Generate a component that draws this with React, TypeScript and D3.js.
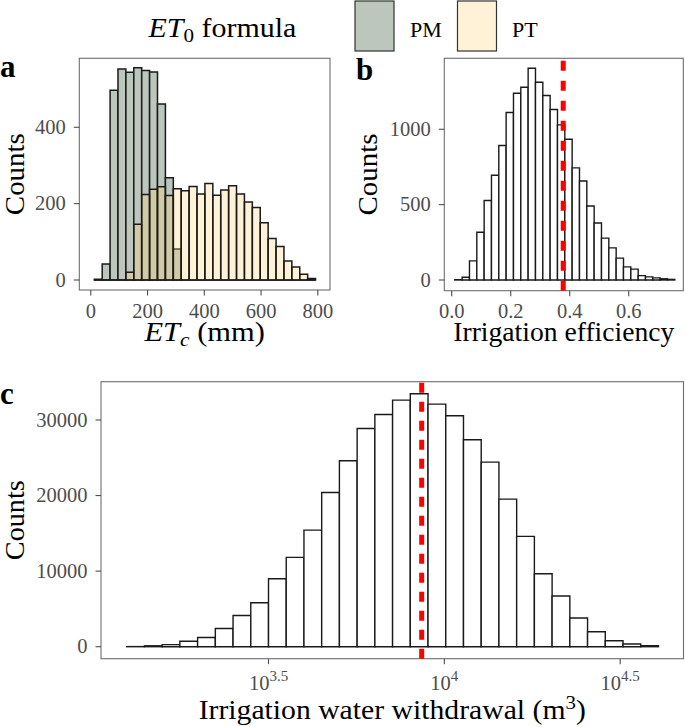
import React from "react";
import * as d3 from "d3";

// ---------- DATA ----------
// Panel a: ETc histogram (mm), shared bins for both ET0 formulas
const etBinStart = 12.3;
const etBinWidth = 27.85;
const pmCounts = [2, 42, 497, 553, 544, 556, 549, 545, 461, 268, 81, 0, 0, 0, 0, 0, 0, 0, 0, 0, 0, 0, 0, 0, 0, 0, 0, 0];
const ptCounts = [0, 0, 0, 0, 20, 146, 224, 238, 244, 221, 239, 234, 245, 225, 253, 222, 236, 247, 225, 204, 190, 150, 109, 88, 50, 34, 15, 4];
const etXTicks = [0, 200, 400, 600, 800];
const etYTicks = [0, 200, 400];

// Panel b: irrigation efficiency
const ieBinStart = 0.0105;
const ieBinWidth = 0.02486;
const ieCounts = [2, 18, 127, 317, 527, 695, 892, 1111, 1239, 1279, 1405, 1312, 1224, 1131, 1029, 934, 744, 657, 491, 378, 278, 213, 145, 87, 72, 29, 21, 14, 8, 4];
const ieMarker = 0.378;
const ieXTicks = [0, 0.2, 0.4, 0.6];
const ieYTicks = [0, 500, 1000];

// Panel c: irrigation water withdrawal (log10 bins, m3)
const iwwBinStartLog = 3.0968;
const iwwBinWidthLog = 0.0504;
const iwwCounts = [15, 120, 280, 720, 1210, 2400, 4120, 5820, 8995, 11816, 15432, 20414, 24602, 28879, 30731, 32627, 33464, 32097, 30554, 27380, 24426, 19532, 14594, 9656, 6702, 3792, 1984, 794, 353, 130];
const iwwMarker = 8620;
const iwwXTickExps = ["3.5", "4", "4.5"];
const iwwYTicks = [0, 10000, 20000, 30000];

const legendLabels = ["PM", "PT"];

// ---------- STYLE ----------
const FONT = "'Liberation Serif', 'DejaVu Serif', serif";
const TICK_COLOR = "#4d4d4d";
const BORDER = "#6e6e6e";
const PM_FILL = "#bcc6bd";
const PT_FILL = "rgb(255,211,118)";
const PT_ALPHA = 0.3;

function barPath(x0: number, x1: number, yBase: number, yTop: number) {
  return `M${x0},${yBase}V${yTop}H${x1}V${yBase}Z`;
}

type Frame = { left: number; right: number; top: number; bottom: number };

function Axes({ f, xTicks, yTicks }: { f: Frame; xTicks: { x: number; label: React.ReactNode; y?: number }[]; yTicks: { y: number; label: string }[] }) {
  return (
    <g>
      <rect x={f.left} y={f.top} width={f.right - f.left} height={f.bottom - f.top} fill="none" stroke={BORDER} strokeWidth={1.1} />
      {xTicks.map((t, i) => (
        <g key={"x" + i}>
          <line x1={t.x} x2={t.x} y1={f.bottom} y2={f.bottom + 5.5} stroke={TICK_COLOR} strokeWidth={1.1} />
          <text x={t.x} y={t.y ?? 318} textAnchor="middle" fontSize={20.5} fill={TICK_COLOR} fontFamily={FONT}>{t.label}</text>
        </g>
      ))}
      {yTicks.map((t, i) => (
        <g key={"y" + i}>
          <line x1={f.left - 5.5} x2={f.left} y1={t.y} y2={t.y} stroke={TICK_COLOR} strokeWidth={1.1} />
          <text x={f.left - 13.5} y={t.y + 6.8} textAnchor="end" fontSize={20.5} fill={TICK_COLOR} fontFamily={FONT}>{t.label}</text>
        </g>
      ))}
    </g>
  );
}

export default function App() {
  // Panel a
  const fa: Frame = { left: 79.3, right: 330, top: 58.3, bottom: 290 };
  const ax = d3.scaleLinear().domain([-40.5, 843]).range([fa.left, fa.right]);
  const ay = d3.scaleLinear().domain([-26.2, 580.7]).range([fa.bottom, fa.top]);

  // Panel b
  const fb: Frame = { left: 444.3, right: 683.3, top: 58.3, bottom: 290.7 };
  const bx = d3.scaleLinear().domain([-0.0251, 0.785]).range([fb.left, fb.right]);
  const by = d3.scaleLinear().domain([-71, 1471]).range([fb.bottom, fb.top]);

  // Panel c
  const fc: Frame = { left: 101, right: 683.5, top: 381.7, bottom: 658.7 };
  const cx = d3.scaleLog().domain([Math.pow(10, 3.0237), Math.pow(10, 4.68)]).range([fc.left, fc.right]);
  const cy = d3.scaleLinear().domain([-1588, 35066]).range([fc.bottom, fc.top]);

  const fmt1 = d3.format(".1f");

  return (
    <svg width={685} height={727} style={{ position: "absolute", left: 0, top: 0, display: "block" }} fontFamily={FONT}>
      <rect width={685} height={727} fill="#fff" />

      {/* Legend */}
      <text transform="translate(148.5,37) scale(1.11,1)" fontSize={27} fill="#000" fontFamily={FONT}>
        <tspan fontStyle="italic">ET</tspan>
        <tspan fontSize={19} dy={5}>0</tspan>
        <tspan dy={-5}> formula</tspan>
      </text>
      <rect x={355} y={1} width={39} height={50} fill={PM_FILL} stroke="#333" strokeWidth={1.2} />
      <text x={410} y={37} fontSize={22} fontFamily={FONT}>{legendLabels[0]}</text>
      <rect x={457.5} y={1} width={39} height={50} fill="#fff2d6" stroke="#333" strokeWidth={1.2} />
      <text x={512} y={37} fontSize={22} fontFamily={FONT}>{legendLabels[1]}</text>

      {/* Panel a */}
      <text x={0} y={77} fontSize={31} fontWeight="bold" fontFamily={FONT}>a</text>
      <Axes
        f={fa}
        xTicks={etXTicks.map((v) => ({ x: ax(v), label: String(v) }))}
        yTicks={etYTicks.map((v) => ({ y: ay(v), label: String(v) }))}
      />
      <g>
        {pmCounts.map((c, i) => {
          const x0 = ax(etBinStart + i * etBinWidth);
          const x1 = ax(etBinStart + (i + 1) * etBinWidth);
          return <path key={"pm" + i} d={barPath(x0, x1, ay(0), ay(c))} fill={PM_FILL} stroke="#1a1a1a" strokeWidth={1.5} />;
        })}
        {ptCounts.map((c, i) => {
          const x0 = ax(etBinStart + i * etBinWidth);
          const x1 = ax(etBinStart + (i + 1) * etBinWidth);
          return <path key={"pt" + i} d={barPath(x0, x1, ay(0), ay(c))} fill={PT_FILL} fillOpacity={PT_ALPHA} stroke="#1a1a1a" strokeWidth={1.5} />;
        })}
      </g>
      <text transform={`translate(24,${(fa.top + fa.bottom) / 2}) rotate(-90)`} textAnchor="middle" fontSize={27} textLength={82} lengthAdjust="spacingAndGlyphs">Counts</text>
      <text transform={`translate(${(fa.left + fa.right) / 2},341) scale(1.13,1)`} textAnchor="middle" fontSize={27}>
        <tspan fontStyle="italic">ET</tspan>
        <tspan fontStyle="italic" fontSize={19} dy={5}>c</tspan>
        <tspan dy={-5}> (mm)</tspan>
      </text>

      {/* Panel b */}
      <text x={356} y={80} fontSize={31} fontWeight="bold" fontFamily={FONT}>b</text>
      <Axes
        f={fb}
        xTicks={ieXTicks.map((v) => ({ x: bx(v), label: fmt1(v) }))}
        yTicks={ieYTicks.map((v) => ({ y: by(v), label: String(v) }))}
      />
      <g>
        {ieCounts.map((c, i) => {
          const x0 = bx(ieBinStart + i * ieBinWidth);
          const x1 = bx(ieBinStart + (i + 1) * ieBinWidth);
          return <path key={"ie" + i} d={barPath(x0, x1, by(0), by(c))} fill="#fff" stroke="#1a1a1a" strokeWidth={1.4} />;
        })}
      </g>
      <line x1={bx(ieMarker)} x2={bx(ieMarker)} y1={fb.bottom} y2={fb.top} stroke="#ff0000" strokeWidth={5} strokeDasharray="10 10" />
      <text transform={`translate(377,${(fb.top + fb.bottom) / 2}) rotate(-90)`} textAnchor="middle" fontSize={27} textLength={82} lengthAdjust="spacingAndGlyphs">Counts</text>
      <text x={(fb.left + fb.right) / 2} y={341} textAnchor="middle" fontSize={27} textLength={221} lengthAdjust="spacingAndGlyphs">Irrigation efficiency</text>

      {/* Panel c */}
      <text x={0} y={404} fontSize={31} fontWeight="bold" fontFamily={FONT}>c</text>
      <Axes
        f={fc}
        xTicks={iwwXTickExps.map((e) => ({
          x: cx(Math.pow(10, parseFloat(e))),
          y: 690,
          label: (
            <>
              <tspan>10</tspan>
              <tspan fontSize={15} dy={-9}>{e}</tspan>
            </>
          ),
        }))}
        yTicks={iwwYTicks.map((v) => ({ y: cy(v), label: String(v) }))}
      />
      <g>
        {iwwCounts.map((c, i) => {
          const x0 = cx(Math.pow(10, iwwBinStartLog + i * iwwBinWidthLog));
          const x1 = cx(Math.pow(10, iwwBinStartLog + (i + 1) * iwwBinWidthLog));
          return <path key={"iw" + i} d={barPath(x0, x1, cy(0), cy(c))} fill="#fff" stroke="#1a1a1a" strokeWidth={1.4} />;
        })}
      </g>
      <line x1={cx(iwwMarker)} x2={cx(iwwMarker)} y1={fc.bottom} y2={fc.top} stroke="#ff0000" strokeWidth={5} strokeDasharray="10 9" />
      <text transform={`translate(24,${(fc.top + fc.bottom) / 2}) rotate(-90)`} textAnchor="middle" fontSize={27} textLength={80} lengthAdjust="spacingAndGlyphs">Counts</text>
      <text transform={`translate(${(fc.left + fc.right) / 2},719) scale(1.1,1)`} textAnchor="middle" fontSize={27}>
        <tspan>Irrigation water withdrawal (m</tspan>
        <tspan fontSize={19} dy={-10}>3</tspan>
        <tspan dy={10}>)</tspan>
      </text>
    </svg>
  );
}
